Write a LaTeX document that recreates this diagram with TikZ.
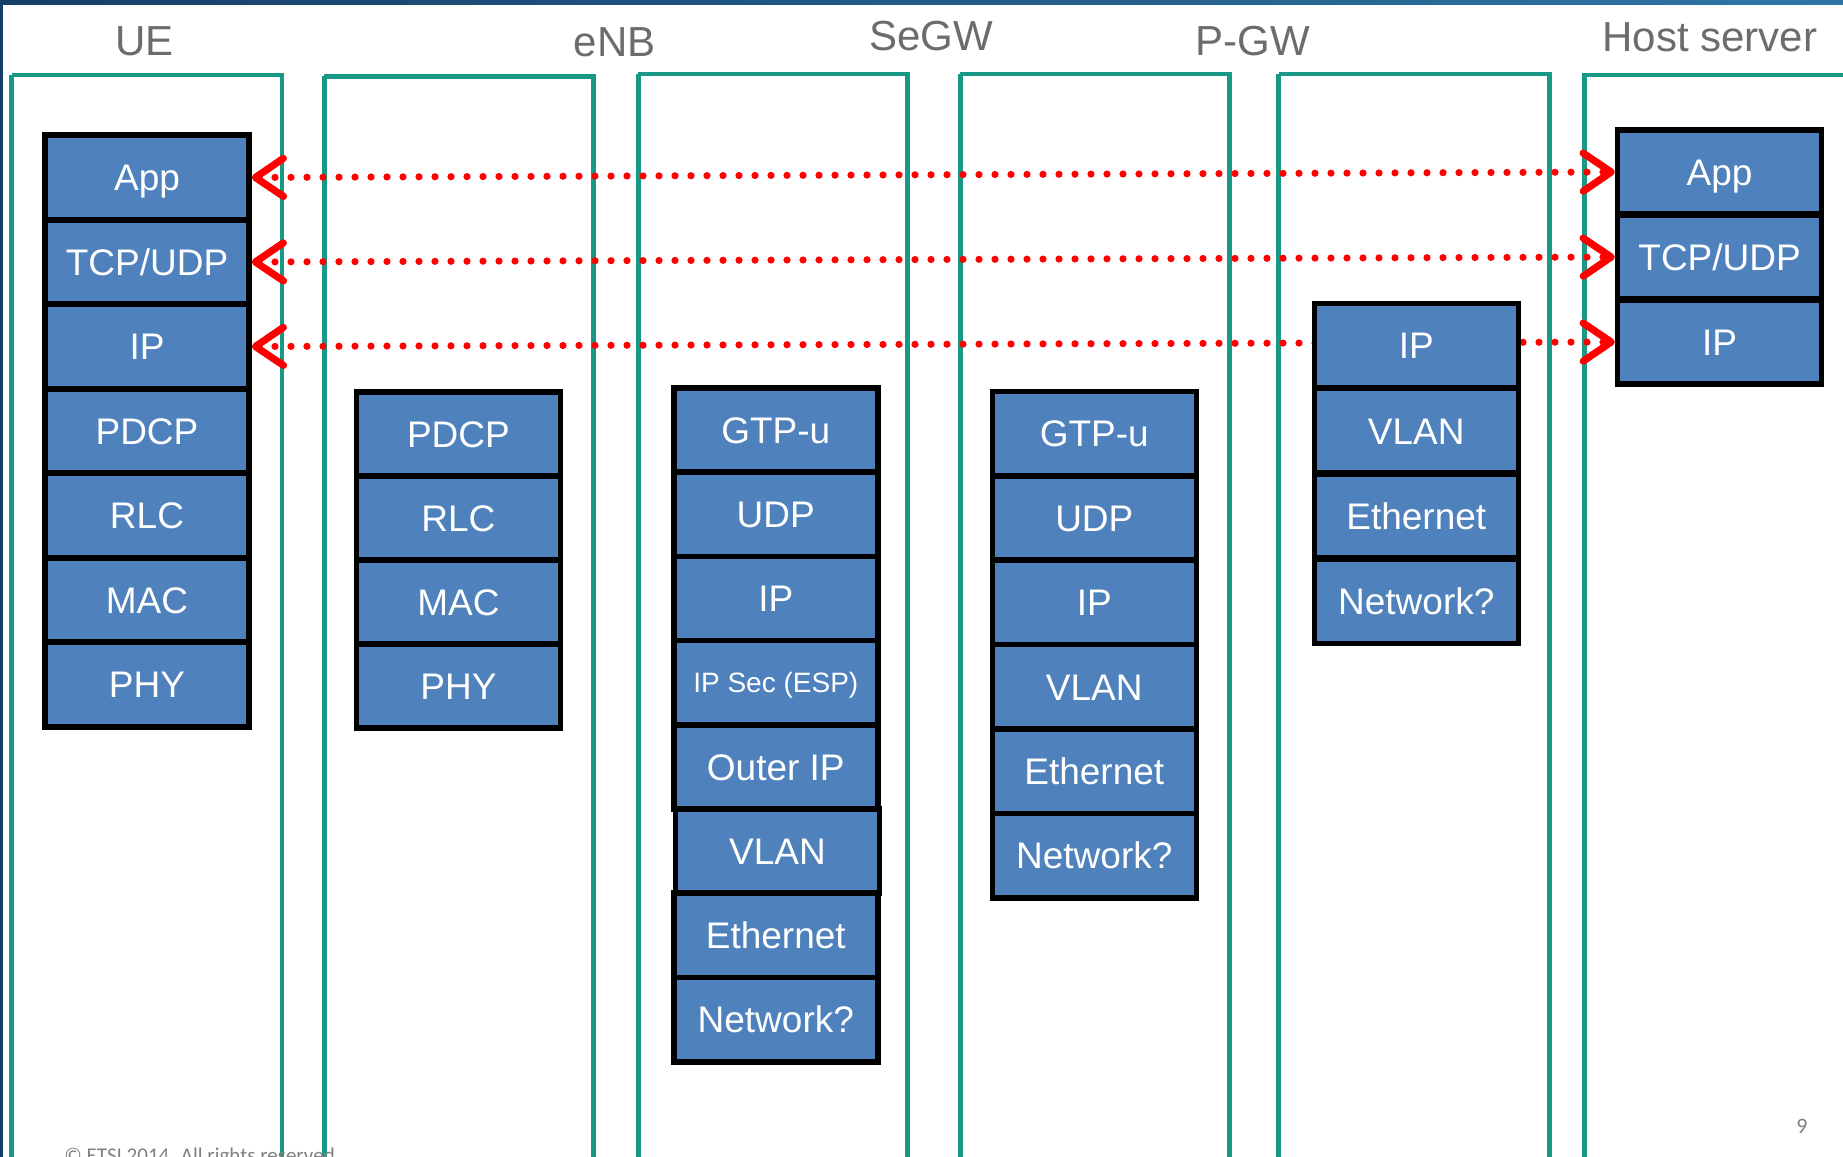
\documentclass[tikz,border=0pt]{standalone}
\usepackage{fontspec}
\setmainfont{Liberation Sans}
\newfontfamily\calib{Carlito}
\usetikzlibrary{arrows.meta}
\pgfdeclarelayer{bg}
\pgfdeclarelayer{mid}
\pgfsetlayers{bg,mid,main}
\definecolor{tealc}{RGB}{26,152,134}
\definecolor{boxblue}{RGB}{79,129,189}
\definecolor{titlegray}{RGB}{108,108,110}
\definecolor{topblueA}{RGB}{22,62,104}
\definecolor{topblueB}{RGB}{48,118,165}
\definecolor{footgray}{RGB}{128,128,128}
\begin{document}
\begin{tikzpicture}[x=0.5pt,y=-0.5pt,
  col/.style={draw=tealc, line width=2.35pt},
  layerbox/.style={draw=black, fill=boxblue, line width=2.8pt,
    minimum width=102pt, minimum height=42.25pt, inner sep=0pt,
    text=white, font=\fontsize{18.5}{20}\selectfont,
    text height=13.25pt, text depth=0pt},
  smalllayer/.style={layerbox, font=\fontsize{14}{16}\selectfont, text height=10pt},
  title/.style={anchor=base, inner sep=0pt, text=titlegray, font=\fontsize{21}{24}\selectfont},
  link/.style={draw=red, line width=3.6pt, line cap=round, dash pattern=on 0pt off 8pt,
    >={Straight Barb[length=14pt,width=19pt,round]}, <->}
]
\useasboundingbox (0,0) rectangle (1843,1157);

% background, frame decorations and column frames
\begin{pgfonlayer}{bg}
\fill[white] (0,0) rectangle (1843,1157);
\fill[left color=topblueA, right color=topblueB] (0,0) rectangle (1843,4);
\fill[topblueA] (0,0) rectangle (3,1157);
\draw[col] (11.8,75) -- (11.8,1157) (11.8,75) -- (282,75) -- (282,1157);
\draw[col] (324.4,76.4) -- (324.4,1157) (324.4,76.4) -- (593.6,76.4) -- (593.6,1157);
\draw[col] (638.2,74) -- (638.2,1157) (638.2,74) -- (907.4,74) -- (907.4,1157);
\draw[col] (960.3,74) -- (960.3,1157) (960.3,74) -- (1229.5,74) -- (1229.5,1157);
\draw[col] (1278.8,74) -- (1278.8,1157) (1278.8,74) -- (1549.2,74) -- (1549.2,1157);
\draw[col] (1584.4,1157) -- (1584.4,75) -- (1843,75);
\end{pgfonlayer}

% titles
\node[title] (tUE) at (144.6,55.2) {UE};
\node[title] (tENB) at (614.7,56.4) {eNB};
\node[title] (tSEGW) at (930.9,50.5) {SeGW};
\node[title] (tPGW) at (1253,55.2) {P-GW};
\node[title] (tHOST) at (1710,51.7) {Host server};

% UE stack
\foreach \t [count=\i from 0] in {App,TCP/UDP,IP,PDCP,RLC,MAC,PHY}
  \node[layerbox] (ue\i) at (147,177.5+\i*84.5) {\t};

% eNB stack
\foreach \t [count=\i from 0] in {PDCP,RLC,MAC,PHY}
  \node[layerbox] (enb\i) at (458.4,434+\i*84) {\t};

% SeGW stack
\node[layerbox] (sg0) at (775.8,430.2) {GTP-u};
\node[layerbox] (sg1) at (775.8,430.2+84.2) {UDP};
\node[layerbox] (sg2) at (775.8,430.2+2*84.2) {IP};
\node[smalllayer] (sg3) at (775.8,430.2+3*84.2) {IP Sec (ESP)};
\node[layerbox] (sg4) at (775.8,430.2+4*84.2) {Outer IP};
\node[layerbox] (sg5) at (777.5,430.2+5*84.2) {VLAN};
\node[layerbox] (sg6) at (775.8,430.2+6*84.2) {Ethernet};
\node[layerbox] (sg7) at (775.8,430.2+7*84.2) {Network?};

% P-GW stack
\foreach \t [count=\i from 0] in {GTP-u,UDP,IP,VLAN,Ethernet,Network?}
  \node[layerbox] (pg\i) at (1094.3,433.6+\i*84.4) {\t};

% fifth column stack
\foreach \t [count=\i from 0] in {IP,VLAN,Ethernet,Network?}
  \node[layerbox] (gw\i) at (1416.3,345.6+\i*85.2) {\t};

% Host server stack
\foreach \t [count=\i from 0] in {App,TCP/UDP,IP}
  \node[layerbox] (hs\i) at (1719.6,172+\i*85) {\t};

% end-to-end links
\begin{pgfonlayer}{mid}
\draw[link] (ue0.east) -- (hs0.west);
\draw[link] (ue1.east) -- (hs1.west);
\draw[link] (ue2.east) -- (hs2.west);
\end{pgfonlayer}

% footer
\node[anchor=base west, inner sep=0pt, text=footgray, font=\calib\fontsize{10.5}{12}\selectfont] (copy) at (64,1162) {© ETSI 2014. All rights reserved};
\node[inner sep=0pt, text=footgray, font=\calib\fontsize{11}{13}\selectfont] (pg) at (1802,1126) {9};
\end{tikzpicture}
\end{document}
